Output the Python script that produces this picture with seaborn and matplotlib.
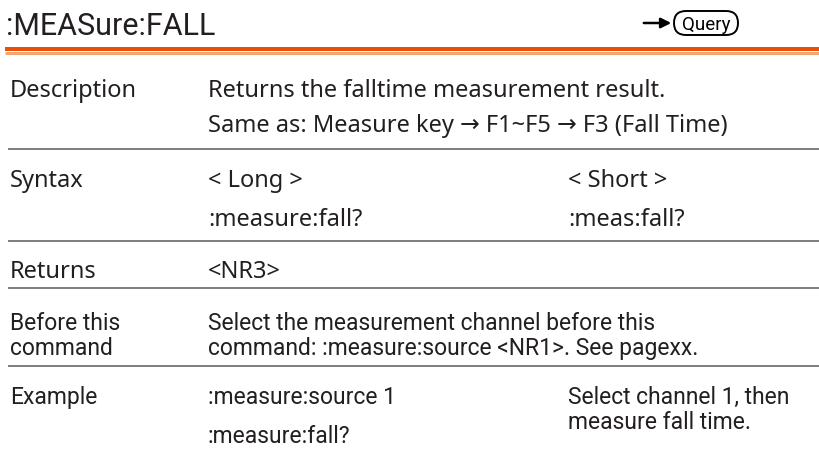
import matplotlib
matplotlib.use('Agg')
import matplotlib.pyplot as plt
from matplotlib.patches import FancyBboxPatch
import seaborn as sns

# page content
title = ':MEASure:FALL'
badge_text = 'Query'

row_labels = ['Description', 'Syntax', 'Returns', 'Before this\ncommand', 'Example']

desc_lines = ['Returns the falltime measurement result.',
              'Same as: Measure key \u2192 F1~F5 \u2192 F3 (Fall Time)']
syntax_long = ['< Long >', ':measure:fall?']
syntax_short = ['< Short >', ':meas:fall?']
returns_text = '<NR3>'
before_lines = ['Select the measurement channel before this',
                'command: :measure:source <NR1>. See pagexx.']
example_cmds = [':measure:source 1', ':measure:fall?']
example_note = ['Select channel 1, then', 'measure fall time.']

########################################################################

sns.set_theme(style='white')
plt.rcParams['font.family'] = ['Noto Sans', 'DejaVu Sans']

humanist = ['Noto Sans', 'DejaVu Sans']
narrow = ['Roboto', 'DejaVu Sans']
FS = 17
FS_N = 16.5
TXT = '#231f20'

fig = plt.figure(figsize=(8.2, 4.52), dpi=100)
ax = fig.add_axes([0, 0, 1, 1])
ax.set_xlim(0, 820)
ax.set_ylim(452, 0)
ax.axis('off')

X1, X2, X3 = 10, 208, 568
PX = 0.72  # one pixel in points

# header
ax.text(6, 35, title, fontsize=22, family=narrow, color=TXT, va='baseline')
ax.annotate('', xy=(674, 24), xytext=(641, 24),
            arrowprops=dict(arrowstyle='-|>', color='black', lw=1.8, mutation_scale=15))
badge = FancyBboxPatch((674, 12), 64, 24, boxstyle='round,pad=0,rounding_size=12',
                       fc='white', ec='black', lw=1.4)
ax.add_patch(badge)
ax.text(706, 24.5, badge_text, fontsize=13.5, family=narrow, color='black', ha='center', va='center')

# orange rule
ax.hlines(50, 5, 820, color='#E8500A', lw=4 * PX)
ax.hlines(53.5, 5, 820, color='#F6A56E', lw=3 * PX)

# row separators
for y in [150, 242, 289, 367]:
    ax.hlines(y, 8, 820, color='#808080', lw=2 * PX)

# Description row
ax.text(X1, 97, row_labels[0], fontsize=FS, family=humanist, color=TXT, va='baseline')
ax.text(X2, 97, desc_lines[0], fontsize=FS, family=humanist, color=TXT, va='baseline')
ax.text(X2, 132, desc_lines[1], fontsize=FS, family=humanist, color=TXT, va='baseline')

# Syntax row
ax.text(X1, 187, row_labels[1], fontsize=FS, family=humanist, color=TXT, va='baseline')
for i, y in enumerate([187, 226]):
    ax.text(X2, y, syntax_long[i], fontsize=FS, family=humanist, color=TXT, va='baseline')
    ax.text(X3, y, syntax_short[i], fontsize=FS, family=humanist, color=TXT, va='baseline')

# Returns row
ax.text(X1, 278, row_labels[2], fontsize=FS, family=humanist, color=TXT, va='baseline')
ax.text(X2, 278, returns_text, fontsize=FS, family=humanist, color=TXT, va='baseline')

# Before this command row
for i, y in enumerate([330, 355]):
    ax.text(X1, y, row_labels[3].split('\n')[i], fontsize=FS_N, family=narrow, color=TXT, va='baseline')
    ax.text(X2, y, before_lines[i], fontsize=FS_N, family=narrow, color=TXT, va='baseline')

# Example row
ax.text(X1, 404, row_labels[4], fontsize=FS_N, family=narrow, color=TXT, va='baseline')
for i, y in enumerate([404, 443]):
    ax.text(X2, y, example_cmds[i], fontsize=FS_N, family=narrow, color=TXT, va='baseline')
for i, y in enumerate([404, 429]):
    ax.text(X3, y, example_note[i], fontsize=FS_N, family=narrow, color=TXT, va='baseline')

plt.savefig('out.png', dpi=100)
plt.close(fig)
